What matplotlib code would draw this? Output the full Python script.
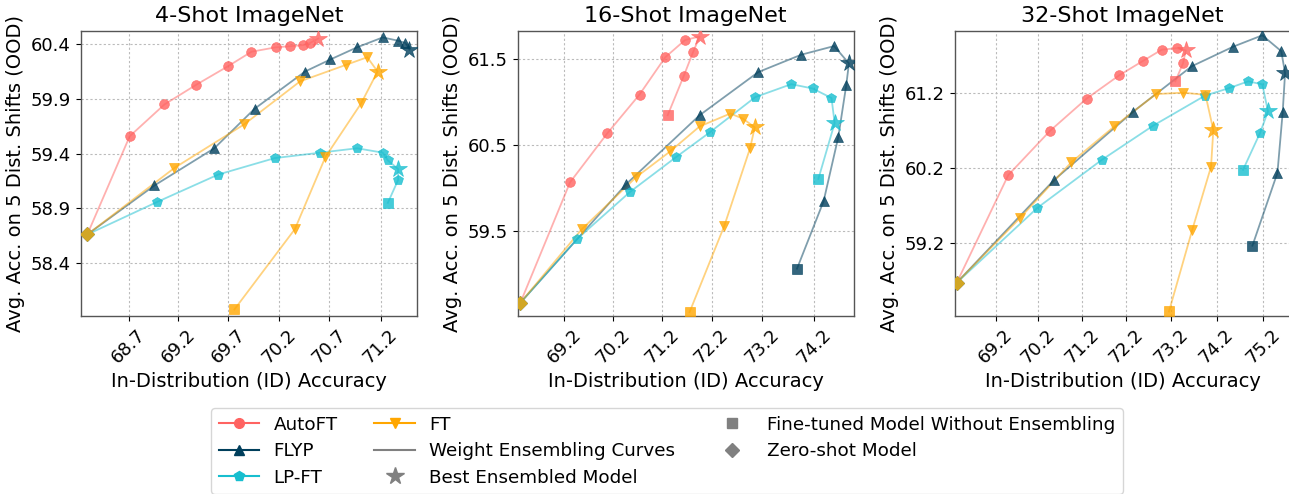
import numpy as np
import matplotlib
matplotlib.use("Agg")
import matplotlib.pyplot as plt
from matplotlib.lines import Line2D
from statistics import NormalDist

# ---------------- data ----------------
titles = ["4-Shot ImageNet", "16-Shot ImageNet", "32-Shot ImageNet"]
methods = ["AutoFT", "FLYP", "LP-FT", "FT"]

zs_id = 68.28
zs_ood = 58.66

# 4-shot
autoft_id_4 = [68.71, 69.06, 69.38, 69.70, 69.93, 70.17, 70.31, 70.44, 70.51, 70.59]
autoft_ood_4 = [59.56, 59.85, 60.03, 60.20, 60.33, 60.37, 60.38, 60.39, 60.41, 60.45]
flyp_id_4 = [68.96, 69.56, 69.96, 70.46, 70.71, 70.97, 71.22, 71.37, 71.44, 71.48]
flyp_ood_4 = [59.11, 59.45, 59.81, 60.15, 60.26, 60.37, 60.46, 60.43, 60.41, 60.35]
lpft_id_4 = [68.99, 69.60, 70.16, 70.61, 70.97, 71.22, 71.27, 71.37, 71.37, 71.27]
lpft_ood_4 = [58.96, 59.21, 59.36, 59.41, 59.45, 59.41, 59.34, 59.26, 59.16, 58.95]
ft_id_4 = [69.16, 69.86, 70.41, 70.86, 71.07, 71.17, 71.01, 70.66, 70.36, 69.76]
ft_ood_4 = [59.27, 59.67, 60.06, 60.21, 60.28, 60.15, 59.86, 59.37, 58.71, 57.97]

# 16-shot
autoft_id_16 = [69.32, 70.09, 70.75, 71.27, 71.67, 71.96, 71.83, 71.64, 71.32]
autoft_ood_16 = [60.07, 60.64, 61.09, 61.52, 61.72, 61.76, 61.58, 61.30, 60.85]
flyp_id_16 = [70.48, 71.96, 73.12, 73.95, 74.58, 74.86, 74.81, 74.66, 74.38, 73.87]
flyp_ood_16 = [60.05, 60.85, 61.35, 61.55, 61.65, 61.45, 61.20, 60.60, 59.85, 59.06]
lpft_id_16 = [69.47, 70.56, 71.48, 72.16, 73.06, 73.76, 74.17, 74.53, 74.59, 74.28]
lpft_ood_16 = [59.41, 59.96, 60.36, 60.65, 61.06, 61.21, 61.16, 61.05, 60.76, 60.11]
ft_id_16 = [69.56, 70.68, 71.37, 71.96, 72.57, 72.82, 73.05, 72.96, 72.45, 71.76]
ft_ood_16 = [59.52, 60.13, 60.43, 60.72, 60.87, 60.81, 60.71, 60.47, 59.56, 58.55]

# 32-shot
autoft_id_32 = [69.50, 70.47, 71.31, 72.05, 72.58, 73.00, 73.33, 73.53, 73.47, 73.30]
autoft_ood_32 = [60.11, 60.70, 61.13, 61.44, 61.63, 61.78, 61.80, 61.77, 61.60, 61.36]
flyp_id_32 = [70.56, 72.35, 73.66, 74.56, 75.18, 75.58, 75.66, 75.61, 75.50, 74.97]
flyp_ood_32 = [60.04, 60.95, 61.56, 61.82, 61.97, 61.76, 61.47, 60.95, 60.14, 59.16]
lpft_id_32 = [70.18, 71.65, 72.81, 73.95, 74.47, 74.88, 75.18, 75.30, 75.13, 74.77]
lpft_ood_32 = [59.67, 60.31, 60.77, 61.17, 61.27, 61.36, 61.32, 60.96, 60.67, 60.18]
ft_id_32 = [69.77, 70.96, 71.94, 72.87, 73.47, 73.96, 74.13, 74.08, 73.67, 73.16]
ft_ood_32 = [59.53, 60.28, 60.76, 61.19, 61.21, 61.18, 60.71, 60.22, 59.37, 58.27]

# index of best ensembled model (star) in each curve; whether last point is the fine-tuned model
best_4 = [9, 9, 7, 5]
best_16 = [5, 5, 8, 6]
best_32 = [7, 6, 7, 6]
has_ft_4 = [False, False, True, True]
has_ft_16 = [True, True, True, True]
has_ft_32 = [True, True, True, True]

xticks_4 = [68.7, 69.2, 69.7, 70.2, 70.7, 71.2]
xticks_16 = [69.2, 70.2, 71.2, 72.2, 73.2, 74.2]
xticks_32 = [69.2, 70.2, 71.2, 72.2, 73.2, 74.2, 75.2]
yticks_4 = [58.4, 58.9, 59.4, 59.9, 60.4]
yticks_16 = [59.5, 60.5, 61.5]
yticks_32 = [59.2, 60.2, 61.2]

xlims = [(68.213, 71.553), (68.219, 74.952), (68.226, 75.78)]
ylims = [(57.91, 60.521), (58.504, 61.827), (58.209, 62.031)]

# ---------------- styles ----------------
colors = {"AutoFT": "#ff6361", "FLYP": "#003f5c", "LP-FT": "#17becf", "FT": "#ffa600"}
markers = {"AutoFT": "o", "FLYP": "^", "LP-FT": "p", "FT": "v"}

ND = NormalDist()


def probit_fwd(x):
    a = np.asarray(x, dtype=float)
    flat = a.ravel()
    out = np.empty_like(flat)
    for i, v in enumerate(flat):
        if not np.isfinite(v):
            out[i] = np.nan
            continue
        p = min(max(v / 100.0, 1e-12), 1 - 1e-12)
        out[i] = ND.inv_cdf(p)
    return out.reshape(a.shape)


def probit_inv(y):
    a = np.asarray(y, dtype=float)
    flat = a.ravel()
    out = np.empty_like(flat)
    for i, v in enumerate(flat):
        out[i] = ND.cdf(v) * 100.0 if np.isfinite(v) else np.nan
    return out.reshape(a.shape)


panels = [
    dict(ids=[autoft_id_4, flyp_id_4, lpft_id_4, ft_id_4],
         oods=[autoft_ood_4, flyp_ood_4, lpft_ood_4, ft_ood_4],
         best=best_4, has_ft=has_ft_4, xt=xticks_4, yt=yticks_4),
    dict(ids=[autoft_id_16, flyp_id_16, lpft_id_16, ft_id_16],
         oods=[autoft_ood_16, flyp_ood_16, lpft_ood_16, ft_ood_16],
         best=best_16, has_ft=has_ft_16, xt=xticks_16, yt=yticks_16),
    dict(ids=[autoft_id_32, flyp_id_32, lpft_id_32, ft_id_32],
         oods=[autoft_ood_32, flyp_ood_32, lpft_ood_32, ft_ood_32],
         best=best_32, has_ft=has_ft_32, xt=xticks_32, yt=yticks_32),
]

W, H = 1289, 494
fig = plt.figure(figsize=(W / 100, H / 100), dpi=100)

lefts_px = [80.7, 517.5, 954.5]
ax_w_px = 336.3
top_px, bot_px = 30.7, 316.0

MS = 7.0
STAR_MS = 13.0
LINE_ALPHA = 0.5
MK_ALPHA = 0.8

for k, pan in enumerate(panels):
    ax = fig.add_axes([lefts_px[k] / W, (H - bot_px) / H, ax_w_px / W, (bot_px - top_px) / H])
    ax.set_xscale("function", functions=(probit_fwd, probit_inv))
    ax.set_yscale("function", functions=(probit_fwd, probit_inv))
    for j, m in enumerate(methods):
        c = colors[m]
        xs = [zs_id] + list(pan["ids"][j])
        ys = [zs_ood] + list(pan["oods"][j])
        ax.plot(xs, ys, color=c, lw=1.3, alpha=LINE_ALPHA, zorder=2)
        b = pan["best"][j]
        n = len(pan["ids"][j])
        last_ft = pan["has_ft"][j]
        reg = [i for i in range(n) if i != b and not (last_ft and i == n - 1)]
        ax.plot([pan["ids"][j][i] for i in reg], [pan["oods"][j][i] for i in reg],
                ls="none", marker=markers[m], ms=MS, color=c, alpha=MK_ALPHA,
                markeredgewidth=0.5, zorder=3)
        ax.plot([pan["ids"][j][b]], [pan["oods"][j][b]], ls="none", marker="*",
                ms=STAR_MS, color=c, alpha=MK_ALPHA, markeredgewidth=0.5, zorder=4)
        if last_ft:
            ax.plot([pan["ids"][j][-1]], [pan["oods"][j][-1]], ls="none", marker="s",
                    ms=MS, color=c, alpha=MK_ALPHA, markeredgewidth=0.5, zorder=3)
        ax.plot([zs_id], [zs_ood], ls="none", marker="D", ms=MS, color=c,
                alpha=MK_ALPHA, markeredgewidth=0.5, zorder=3)

    ax.set_xlim(*xlims[k])
    ax.set_ylim(*ylims[k])
    ax.set_xticks(pan["xt"])
    ax.set_xticklabels([f"{v:.1f}" for v in pan["xt"]], rotation=45, ha="center")
    ax.set_yticks(pan["yt"])
    ax.set_yticklabels([f"{v:.1f}" for v in pan["yt"]])
    ax.minorticks_off()
    ax.tick_params(labelsize=13)
    ax.grid(True, color="#bbbbbb", linestyle=(0, (2, 2)), linewidth=0.8)
    ax.set_axisbelow(True)
    for sp in ax.spines.values():
        sp.set_color("#555555")
        sp.set_linewidth(1.0)
    ax.set_title(titles[k], fontsize=16)
    ax.set_xlabel("In-Distribution (ID) Accuracy", fontsize=14)
    ax.set_ylabel("Avg. Acc. on 5 Dist. Shifts (OOD)", fontsize=14)

gray = "#808080"
handles = [
    Line2D([], [], color=colors["AutoFT"], marker="o", ms=MS, lw=1.5),
    Line2D([], [], color=colors["FLYP"], marker="^", ms=MS, lw=1.5),
    Line2D([], [], color=colors["LP-FT"], marker="p", ms=MS, lw=1.5),
    Line2D([], [], color=colors["FT"], marker="v", ms=MS, lw=1.5),
    Line2D([], [], color=gray, lw=1.5),
    Line2D([], [], color=gray, marker="*", ms=STAR_MS, ls="none"),
    Line2D([], [], color=gray, marker="s", ms=MS, ls="none"),
    Line2D([], [], color=gray, marker="D", ms=MS, ls="none"),
]
labels = ["AutoFT", "FLYP", "LP-FT", "FT", "Weight Ensembling Curves",
          "Best Ensembled Model", "Fine-tuned Model Without Ensembling", "Zero-shot Model"]
fig.legend(handles, labels, loc="upper center", bbox_to_anchor=(667 / W, (H - 399) / H),
           ncol=3, fontsize=13.2, labelspacing=0.47, handlelength=2.2, frameon=True)

fig.savefig("out.png", dpi=100)
